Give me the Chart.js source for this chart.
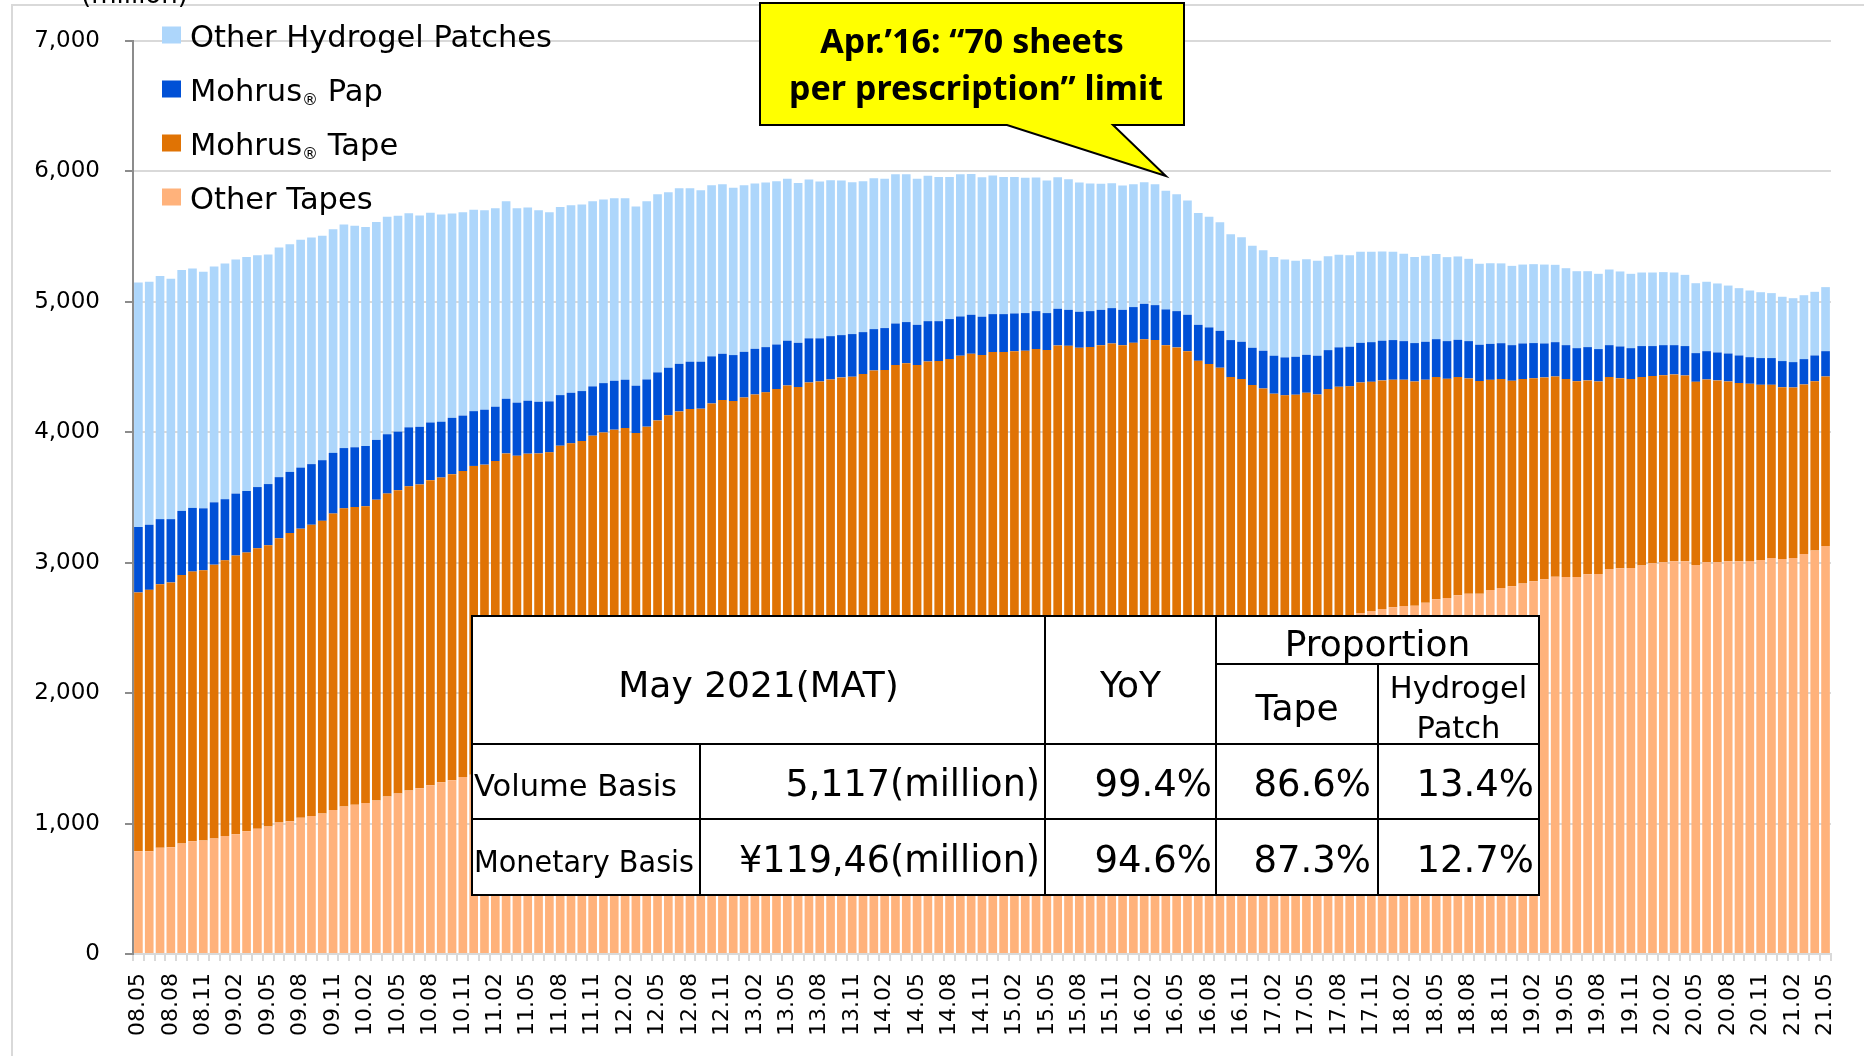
<!DOCTYPE html>
<html>
<head>
<meta charset="utf-8">
<script src="https://cdn.jsdelivr.net/npm/chart.js@4.4.1/dist/chart.umd.min.js"></script>
<style>
  html, body { margin: 0; padding: 0; background: #fff; }
</style>
</head>
<body>
<canvas id="chart" width="1864" height="1056"></canvas>
<script>
// Monthly MAT, May 2008 to May 2021
var months = [
  '08.05','08.06','08.07','08.08','08.09','08.10','08.11','08.12',
  '09.01','09.02','09.03','09.04','09.05','09.06','09.07','09.08','09.09','09.10','09.11','09.12',
  '10.01','10.02','10.03','10.04','10.05','10.06','10.07','10.08','10.09','10.10','10.11','10.12',
  '11.01','11.02','11.03','11.04','11.05','11.06','11.07','11.08','11.09','11.10','11.11','11.12',
  '12.01','12.02','12.03','12.04','12.05','12.06','12.07','12.08','12.09','12.10','12.11','12.12',
  '13.01','13.02','13.03','13.04','13.05','13.06','13.07','13.08','13.09','13.10','13.11','13.12',
  '14.01','14.02','14.03','14.04','14.05','14.06','14.07','14.08','14.09','14.10','14.11','14.12',
  '15.01','15.02','15.03','15.04','15.05','15.06','15.07','15.08','15.09','15.10','15.11','15.12',
  '16.01','16.02','16.03','16.04','16.05','16.06','16.07','16.08','16.09','16.10','16.11','16.12',
  '17.01','17.02','17.03','17.04','17.05','17.06','17.07','17.08','17.09','17.10','17.11','17.12',
  '18.01','18.02','18.03','18.04','18.05','18.06','18.07','18.08','18.09','18.10','18.11','18.12',
  '19.01','19.02','19.03','19.04','19.05','19.06','19.07','19.08','19.09','19.10','19.11','19.12',
  '20.01','20.02','20.03','20.04','20.05','20.06','20.07','20.08','20.09','20.10','20.11','20.12',
  '21.01','21.02','21.03','21.04','21.05'
];

// million sheets
var otherTapes = [
  788, 788, 815, 818, 848, 865, 871, 885,
  905, 918, 941, 961, 978, 1008, 1018, 1044, 1058, 1078, 1104, 1131,
  1144, 1157, 1177, 1207, 1230, 1254, 1270, 1293, 1317, 1333, 1357, 1375,
  1390, 1408, 1430, 1440, 1455, 1468, 1480, 1500, 1515, 1530, 1548, 1562,
  1575, 1590, 1598, 1615, 1632, 1648, 1662, 1676, 1688, 1705, 1720, 1728,
  1742, 1756, 1770, 1785, 1800, 1808, 1822, 1835, 1850, 1862, 1875, 1888,
  1902, 1915, 1930, 1942, 1950, 1964, 1976, 1990, 2004, 2018, 2026, 2040,
  2052, 2066, 2078, 2092, 2100, 2115, 2128, 2140, 2155, 2170, 2182, 2195,
  2210, 2228, 2240, 2258, 2272, 2290, 2308, 2325, 2340, 2358, 2372, 2390,
  2405, 2420, 2438, 2452, 2468, 2485, 2520, 2550, 2590, 2615, 2630, 2646,
  2658, 2669, 2671, 2694, 2720, 2730, 2750, 2763, 2763, 2791, 2806, 2819,
  2840, 2857, 2873, 2893, 2891, 2891, 2911, 2914, 2952, 2957, 2960, 2978,
  2995, 3003, 3011, 3011, 2983, 3003, 3003, 3011, 3011, 3013, 3021, 3036,
  3029, 3036, 3067, 3093, 3128
];
var mohrusTape = [
  1984, 2004, 2020, 2031, 2057, 2067, 2071, 2100,
  2113, 2137, 2137, 2150, 2156, 2180, 2209, 2217, 2233, 2243, 2273, 2286,
  2283, 2276, 2306, 2323, 2326, 2332, 2330, 2340, 2336, 2346, 2346, 2367,
  2362, 2372, 2408, 2380, 2381, 2370, 2366, 2397, 2400, 2403, 2426, 2437,
  2445, 2442, 2396, 2428, 2459, 2482, 2498, 2502, 2493, 2516, 2527, 2511,
  2525, 2534, 2536, 2546, 2559, 2539, 2560, 2555, 2555, 2559, 2551, 2558,
  2572, 2562, 2585, 2588, 2565, 2579, 2570, 2571, 2583, 2584, 2566, 2575,
  2563, 2556, 2547, 2546, 2530, 2551, 2535, 2508, 2498, 2498, 2499, 2473,
  2476, 2486, 2467, 2410, 2379, 2332, 2240, 2198, 2155, 2065, 2036, 1972,
  1931, 1876, 1845, 1836, 1835, 1805, 1811, 1799, 1762, 1767, 1757, 1752,
  1745, 1734, 1719, 1709, 1703, 1680, 1673, 1650, 1630, 1611, 1602, 1576,
  1568, 1558, 1548, 1535, 1517, 1501, 1487, 1476, 1471, 1458, 1448, 1445,
  1436, 1435, 1433, 1425, 1404, 1402, 1395, 1379, 1366, 1359, 1343, 1328,
  1317, 1308, 1300, 1299, 1300
];
var mohrusPap = [
  502, 499, 499, 485, 492, 488, 475, 478,
  469, 475, 472, 469, 469, 468, 469, 468, 465, 465, 465, 462,
  458, 462, 459, 455, 449, 452, 442, 442, 428, 432, 425, 420,
  421, 416, 419, 407, 406, 396, 391, 388, 388, 383, 378, 378,
  375, 371, 363, 362, 368, 365, 365, 363, 360, 361, 355, 353,
  350, 350, 347, 342, 343, 339, 338, 330, 332, 324, 327, 322,
  317, 322, 319, 315, 309, 309, 306, 307, 301, 299, 294, 291,
  291, 289, 289, 291, 284, 281, 276, 276, 276, 271, 271, 271,
  274, 271, 268, 274, 278, 279, 276, 281, 283, 284, 286, 286,
  289, 291, 291, 291, 291, 297, 299, 302, 304, 304, 304, 304,
  304, 296, 294, 291, 291, 289, 286, 286, 278, 276, 275, 273,
  273, 269, 260, 263, 260, 253, 255, 248, 245, 243, 237, 238,
  230, 230, 224, 225, 220, 217, 214, 214, 212, 204, 205, 205,
  200, 194, 194, 197, 194
];
var otherHydrogel = [
  1874, 1864, 1864, 1844, 1848, 1835, 1814, 1808,
  1807, 1794, 1794, 1778, 1761, 1761, 1745, 1748, 1738, 1721, 1715, 1714,
  1699, 1679, 1671, 1668, 1655, 1642, 1621, 1608, 1589, 1566, 1559, 1545,
  1530, 1522, 1515, 1491, 1481, 1469, 1450, 1443, 1438, 1430, 1420, 1407,
  1400, 1392, 1374, 1367, 1366, 1346, 1346, 1330, 1315, 1312, 1300, 1282,
  1277, 1267, 1262, 1252, 1241, 1226, 1218, 1202, 1196, 1185, 1164, 1157,
  1157, 1144, 1145, 1134, 1119, 1114, 1106, 1090, 1091, 1080, 1070, 1062,
  1052, 1047, 1037, 1024, 1016, 1009, 1001, 991, 978, 966, 958, 953,
  942, 932, 927, 909, 896, 876, 858, 848, 833, 812, 802, 782,
  771, 756, 751, 736, 733, 728, 720, 710, 702, 698, 693, 684,
  677, 669, 659, 659, 652, 644, 639, 631, 621, 618, 612, 608,
  605, 605, 605, 593, 590, 590, 582, 577, 580, 575, 570, 564,
  564, 560, 557, 546, 536, 532, 529, 521, 516, 511, 505, 498,
  493, 490, 490, 488, 491
];

var seriesNames = ['Other Tapes', 'Mohrus\u00AE Tape', 'Mohrus\u00AE Pap', 'Other Hydrogel Patches'];
var seriesColors = ['#FFB27B', '#E07304', '#0050D6', '#ADD6FB'];

// summary table
var tableTitle = 'May 2021(MAT)';
var tableHeads = ['YoY', 'Proportion', 'Tape', 'Hydrogel', 'Patch'];
var tableRows = [
  ['Volume Basis', '5,117(million)', '99.4%', '86.6%', '13.4%'],
  ['Monetary Basis', '\u00A5119,46(million)', '94.6%', '87.3%', '12.7%']
];

// callout
var calloutLines = ['Apr.\u201916: \u201C70 sheets', 'per prescription\u201D limit'];
var calloutMonth = '16.04';
var calloutValue = 5965;

var FONT = '"DejaVu Sans", Verdana, sans-serif';

function put_text(ctx, s, x, y, size, align, maxW){
  ctx.font = size + 'px ' + FONT;
  ctx.textAlign = align;
  ctx.textBaseline = 'alphabetic';
  if (maxW) ctx.fillText(s, x, y, maxW);
  else ctx.fillText(s, x, y);
}

// draw the summary table over the bars
function draw_table(ctx){
  var L = 472, T = 616, R = 1539, B = 895;
  var c1 = 700, c2 = 1045, c3 = 1216, c4 = 1378;
  var r1 = 664, r2 = 744, r3 = 819;

  ctx.fillStyle = '#fff';
  ctx.fillRect(L, T, R - L, B - T);

  ctx.strokeStyle = '#000';
  ctx.lineWidth = 2;
  ctx.beginPath();
  ctx.rect(L, T, R - L, B - T);
  ctx.moveTo(c1, r2); ctx.lineTo(c1, B);
  ctx.moveTo(c2, T); ctx.lineTo(c2, B);
  ctx.moveTo(c3, T); ctx.lineTo(c3, B);
  ctx.moveTo(c4, r1); ctx.lineTo(c4, B);
  ctx.moveTo(c3, r1); ctx.lineTo(R, r1);
  ctx.moveTo(L, r2); ctx.lineTo(R, r2);
  ctx.moveTo(L, r3); ctx.lineTo(R, r3);
  ctx.stroke();

  ctx.fillStyle = '#000';
  put_text(ctx, tableTitle, (L + c2) / 2, 697, 36, 'center');
  put_text(ctx, tableHeads[0], (c2 + c3) / 2, 697, 36, 'center');
  put_text(ctx, tableHeads[1], (c3 + R) / 2, 656, 36, 'center');
  put_text(ctx, tableHeads[2], (c3 + c4) / 2, 720, 36, 'center');
  put_text(ctx, tableHeads[3], (c4 + R) / 2, 698, 30.5, 'center');
  put_text(ctx, tableHeads[4], (c4 + R) / 2, 738, 30.5, 'center');

  var baselines = [796, 872];
  tableRows.forEach(function(row, i){
    var y = baselines[i];
    put_text(ctx, row[0], L + 2, y, 30.5, 'left', c1 - L - 8);
    put_text(ctx, row[1], c2 - 5, y, 36.5, 'right');
    put_text(ctx, row[2], c3 - 4, y, 37, 'right');
    put_text(ctx, row[3], c4 - 7, y, 37, 'right');
    put_text(ctx, row[4], R - 5, y, 37, 'right');
  });
}

// vertical legend, top item is the top of the stack
function draw_legend(ctx, chart){
  var sets = chart.data.datasets.slice().reverse();
  sets.forEach(function(ds, i){
    var cy = 35 + i * 54;
    ctx.fillStyle = ds.backgroundColor;
    ctx.fillRect(162, cy - 8.5, 19, 17);
    ctx.fillStyle = '#000';
    var parts = ds.label.split('\u00AE');
    var x = 190, base = cy + 11.5;
    put_text(ctx, parts[0], x, base, 30.5, 'left');
    if (parts.length > 1){
      x += ctx.measureText(parts[0]).width;
      put_text(ctx, '\u00AE', x, base + 4.5, 16, 'left');
      x += ctx.measureText('\u00AE').width;
      put_text(ctx, parts[1], x, base, 30.5, 'left');
    }
  });
}

function draw_callout(ctx, chart){
  var tipX = chart.scales.x.getPixelForValue(months.indexOf(calloutMonth));
  var tipY = chart.scales.y.getPixelForValue(calloutValue);
  ctx.beginPath();
  ctx.moveTo(760, 3);
  ctx.lineTo(1184, 3);
  ctx.lineTo(1184, 125);
  ctx.lineTo(1113, 125);
  ctx.lineTo(tipX, tipY);
  ctx.lineTo(1007, 125);
  ctx.lineTo(760, 125);
  ctx.closePath();
  ctx.fillStyle = '#FFFF00';
  ctx.fill();
  ctx.strokeStyle = '#000';
  ctx.lineWidth = 2;
  ctx.lineJoin = 'miter';
  ctx.stroke();

  ctx.fillStyle = '#000';
  ctx.font = 'bold 34px "Noto Sans", sans-serif';
  ctx.textAlign = 'center';
  ctx.textBaseline = 'alphabetic';
  ctx.fillText(calloutLines[0], 972, 53);
  ctx.fillText(calloutLines[1], 976, 100);
}

var decorations = {
  id: 'decorations',
  beforeDraw: function(chart){
    var ctx = chart.ctx;
    ctx.save();
    ctx.strokeStyle = '#d9d9d9';
    ctx.lineWidth = 2;
    ctx.strokeRect(12, 5, 1900, 1100);
    ctx.fillStyle = '#000';
    put_text(ctx, '(million)', 81, 3, 26, 'left');
    ctx.restore();
  },
  afterDatasetsDraw: function(chart){
    var ctx = chart.ctx;
    ctx.save();
    draw_table(ctx);
    ctx.restore();
  },
  afterDraw: function(chart){
    var ctx = chart.ctx;
    ctx.save();
    draw_legend(ctx, chart);
    draw_callout(ctx, chart);
    ctx.restore();
  }
};

var seriesData = [otherTapes, mohrusTape, mohrusPap, otherHydrogel];
var datasets = seriesData.map(function(values, i){
  return {
    label: seriesNames[i],
    data: values,
    backgroundColor: seriesColors[i],
    borderWidth: 0,
    barPercentage: 0.8,
    categoryPercentage: 1.0
  };
});

var ctx = document.getElementById('chart');
var myChart = new Chart(ctx, {
  type: 'bar',
  data: { labels: months, datasets: datasets },
  plugins: [decorations],
  options: {
    responsive: false,
    animation: false,
    devicePixelRatio: 1,
    layout: { padding: { top: 41, right: 21, left: 0, bottom: 0 } },
    plugins: {
      legend: { display: false },
      tooltip: { enabled: false }
    },
    scales: {
      x: {
        stacked: true,
        grid: { offset: true, drawOnChartArea: false, color: '#d9d9d9', lineWidth: 2, tickLength: 7 },
        border: { color: '#d9d9d9', width: 2 },
        ticks: {
          autoSkip: false, maxRotation: 90, minRotation: 90, padding: 12,
          color: '#000', font: { family: FONT, size: 22 },
          callback: function(v, i){ return i % 3 === 0 ? months[i] : ''; }
        },
        afterFit: function(s){ s.height = 102; }
      },
      y: {
        stacked: true, min: 0, max: 7000,
        grid: { color: '#d9d9d9', lineWidth: 2, tickColor: '#8c8c8c', tickLength: 8 },
        border: { color: '#8c8c8c', width: 2 },
        ticks: {
          stepSize: 1000, padding: 25, color: '#000', font: { family: FONT, size: 23 },
          callback: function(v){ return v.toLocaleString('en-US'); }
        },
        afterFit: function(s){ s.width = 133; }
      }
    }
  }
});
</script>
</body>
</html>
